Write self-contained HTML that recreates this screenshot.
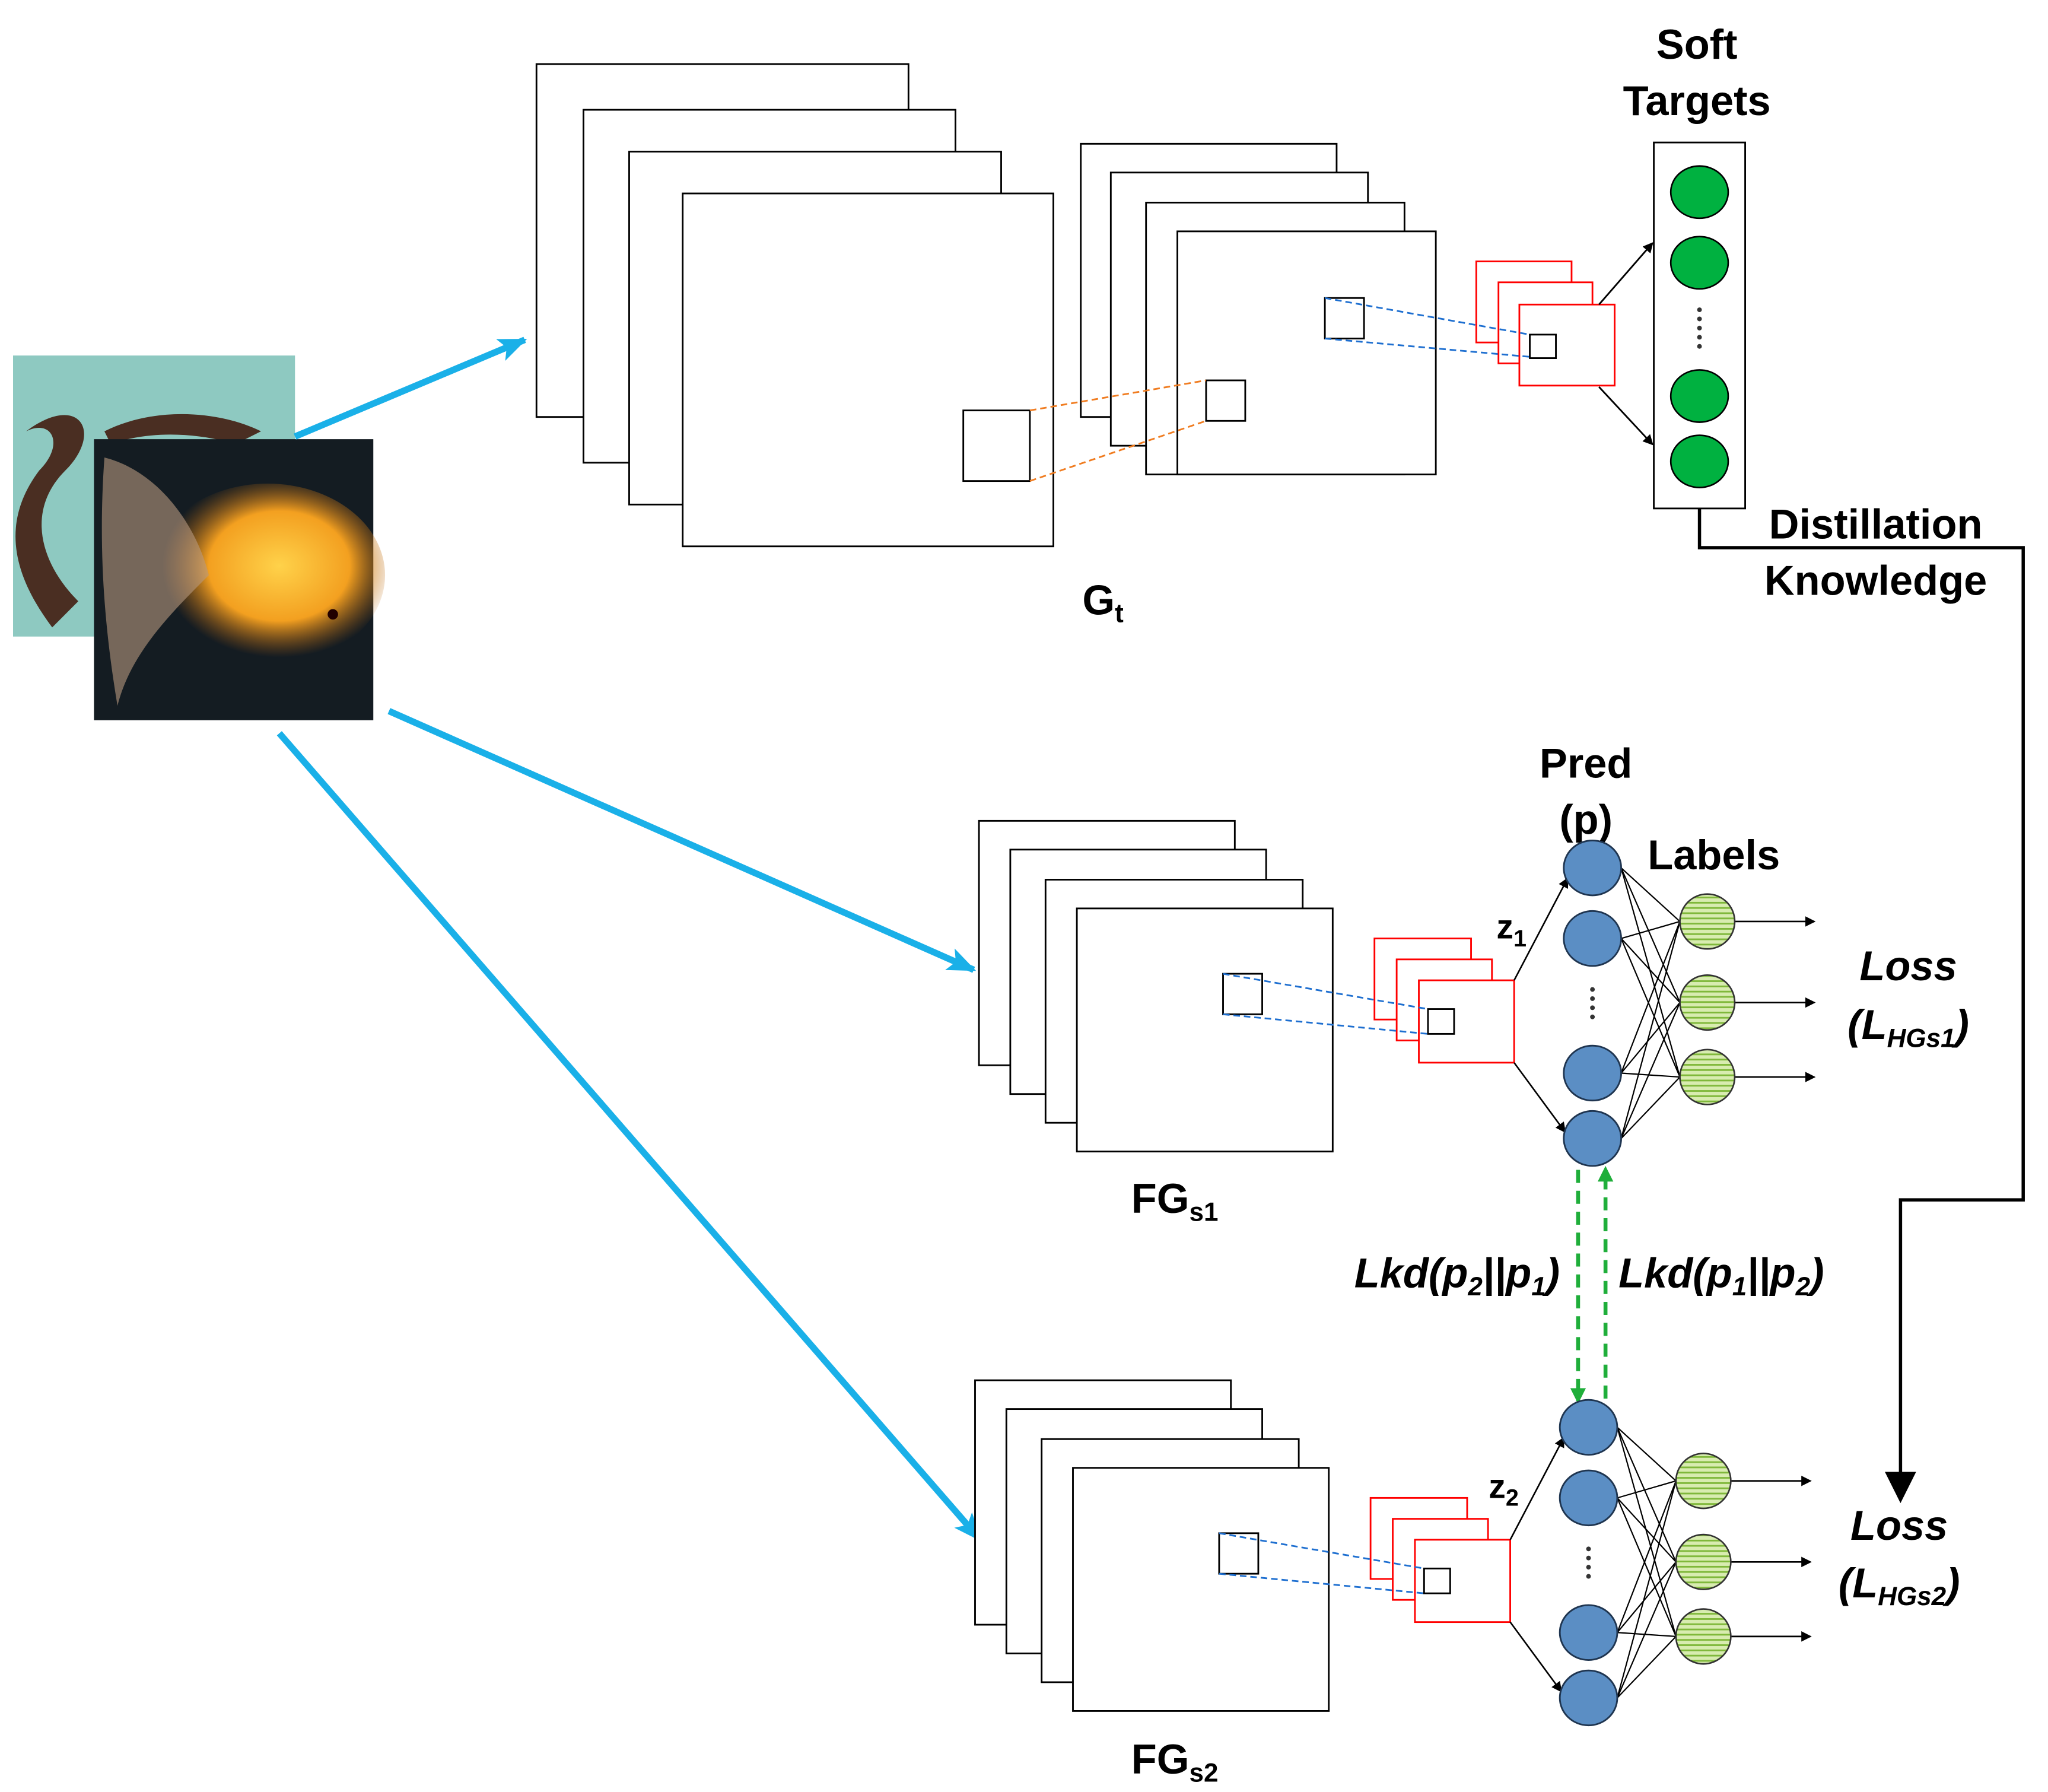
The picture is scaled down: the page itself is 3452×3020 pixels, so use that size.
<!DOCTYPE html>
<html><head><meta charset="utf-8"><style>html,body{margin:0;padding:0;background:#fff}svg{display:block}</style></head><body>
<svg xmlns="http://www.w3.org/2000/svg" width="3452" height="3020" viewBox="0 0 1569 1371" preserveAspectRatio="none" font-family="Liberation Sans, Arial, sans-serif">
<defs>
<marker id="ab" markerWidth="8" markerHeight="8" refX="7" refY="4" orient="auto" markerUnits="userSpaceOnUse"><path d="M0,0 L8,4 L0,8 Z" fill="#000"/></marker>
<marker id="abl" markerWidth="22" markerHeight="18" refX="20" refY="9" orient="auto" markerUnits="userSpaceOnUse"><path d="M0,0 L22,9 L0,18 L5,9 Z" fill="#1ab0e8"/></marker>
<marker id="ag" markerWidth="12" markerHeight="12" refX="10" refY="6" orient="auto" markerUnits="userSpaceOnUse"><path d="M0,0 L12,6 L0,12 Z" fill="#1fae3a"/></marker>
<marker id="abig" markerWidth="24" markerHeight="24" refX="20" refY="12" orient="auto" markerUnits="userSpaceOnUse"><path d="M0,0 L24,12 L0,24 Z" fill="#000"/></marker>
<pattern id="stripe" width="6" height="4" patternUnits="userSpaceOnUse"><rect width="6" height="4" fill="#d8ecb0"/><rect y="2" width="6" height="1.3" fill="#7fb83a"/></pattern>
<radialGradient id="fishg" cx="0.55" cy="0.45" r="0.5"><stop offset="0" stop-color="#ffd24a"/><stop offset="0.6" stop-color="#f3a020"/><stop offset="1" stop-color="#b06010" stop-opacity="0"/></radialGradient>
</defs>
<rect x="10" y="272" width="216" height="215" fill="#8ec9c1"/>
<path d="M20,330 C60,300 80,330 50,360 C20,390 30,430 60,460 L40,480 C10,440 0,400 30,360 C50,340 40,320 20,330Z" fill="#4a2e22"/>
<path d="M80,330 C120,310 170,315 200,330 L180,340 C150,330 110,330 85,340Z" fill="#4a2e22"/>
<rect x="72" y="336" width="214" height="215" fill="#141c22"/>
<ellipse cx="205" cy="440" rx="90" ry="70" fill="url(#fishg)"/>
<path d="M80,350 C120,360 150,400 160,440 C130,470 100,500 90,540 C80,480 75,420 80,350Z" fill="#b89a80" opacity="0.6"/>
<circle cx="255" cy="470" r="4" fill="#200"/>
<g fill="none" stroke="#000" stroke-width="1.3">
<rect x="411" y="49" width="285" height="270" fill="#fff"/>
<rect x="447" y="84" width="285" height="270" fill="#fff"/>
<rect x="482" y="116" width="285" height="270" fill="#fff"/>
<rect x="523" y="148" width="284" height="270" fill="#fff"/>
<rect x="738" y="314" width="51" height="54"/>
<rect x="828" y="110" width="196" height="209" fill="#fff"/>
<rect x="851" y="132" width="197" height="209" fill="#fff"/>
<rect x="878" y="155" width="198" height="208" fill="#fff"/>
<rect x="902" y="177" width="198" height="186" fill="#fff"/>
<rect x="924" y="291" width="30" height="31"/>
<rect x="1015" y="228" width="30" height="31"/>
</g>
<g stroke="#f07c20" stroke-width="1.3" stroke-dasharray="5,3"><line x1="789" y1="314" x2="924" y2="291"/><line x1="789" y1="368" x2="924" y2="322"/></g>
<g fill="#fff" stroke="#f00" stroke-width="1.3">
<rect x="1131" y="200" width="73" height="62"/><rect x="1148" y="216" width="72" height="62"/><rect x="1164" y="233" width="73" height="62"/>
</g>
<g stroke="#1e6fd0" stroke-width="1.3" stroke-dasharray="5,3"><line x1="1015" y1="228" x2="1172" y2="256"/><line x1="1015" y1="259" x2="1172" y2="273"/></g>
<rect x="1172" y="256" width="20" height="18" fill="none" stroke="#000" stroke-width="1.3"/>
<g stroke="#000" stroke-width="1.3" marker-end="url(#ab)"><line x1="1225" y1="233" x2="1266" y2="186"/><line x1="1225" y1="296" x2="1266" y2="340"/></g>
<rect x="1267" y="109" width="70" height="280" fill="#fff" stroke="#000" stroke-width="1.3"/>
<g fill="#00b140" stroke="#000" stroke-width="1.2"><ellipse cx="1302" cy="147" rx="22" ry="20"/><ellipse cx="1302" cy="201" rx="22" ry="20"/><ellipse cx="1302" cy="303" rx="22" ry="20"/><ellipse cx="1302" cy="353" rx="22" ry="20"/></g>
<g fill="#333"><circle cx="1302" cy="237" r="1.8"/><circle cx="1302" cy="244" r="1.8"/><circle cx="1302" cy="251" r="1.8"/><circle cx="1302" cy="258" r="1.8"/><circle cx="1302" cy="265" r="1.8"/></g>
<polyline points="1302,389 1302,419 1550,419 1550,918 1456,918 1456,1146" fill="none" stroke="#000" stroke-width="2.5" marker-end="url(#abig)"/>
<g font-weight="bold" font-size="32" text-anchor="middle" fill="#000">
<text x="1300" y="45">Soft</text><text x="1300" y="88">Targets</text>
<text x="1437" y="412">Distillation</text><text x="1437" y="455">Knowledge</text>
<text x="845" y="470">G<tspan font-size="20" dy="6">t</tspan></text>
<text x="1215" y="595">Pred</text><text x="1215" y="638">(p)</text>
<text x="1313" y="665">Labels</text>
<text x="900" y="928">FG<tspan font-size="20" dy="6">s1</tspan></text>
<text x="900" y="1357">FG<tspan font-size="20" dy="6">s2</tspan></text>
<text x="1158" y="718" font-size="26">z<tspan font-size="18" dy="6">1</tspan></text>
<text x="1152" y="1146" font-size="26">z<tspan font-size="18" dy="6">2</tspan></text>
</g>
<g font-weight="bold" font-style="italic" font-size="32" fill="#000" text-anchor="middle">
<text x="1462" y="750">Loss</text><text x="1462" y="795">(L<tspan font-size="20" dy="6">HGs1</tspan><tspan dy="-6">)</tspan></text>
<text x="1455" y="1178">Loss</text><text x="1455" y="1222">(L<tspan font-size="20" dy="6">HGs2</tspan><tspan dy="-6">)</tspan></text>
<text x="1195" y="985" text-anchor="end">Lkd(p<tspan font-size="20" dy="6">2</tspan><tspan dy="-6">||p</tspan><tspan font-size="20" dy="6">1</tspan><tspan dy="-6">)</tspan></text>
<text x="1240" y="985" text-anchor="start">Lkd(p<tspan font-size="20" dy="6">1</tspan><tspan dy="-6">||p</tspan><tspan font-size="20" dy="6">2</tspan><tspan dy="-6">)</tspan></text>
</g>
<g stroke="#1ab0e8" stroke-width="5" marker-end="url(#abl)"><line x1="226" y1="334" x2="402" y2="260"/><line x1="298" y1="544" x2="746" y2="742"/><line x1="214" y1="561" x2="751" y2="1178"/></g>
<g stroke="#1fae3a" stroke-width="3" stroke-dasharray="10,6"><line x1="1209" y1="895" x2="1209" y2="1072" marker-end="url(#ag)"/><line x1="1230" y1="1070" x2="1230" y2="894" marker-end="url(#ag)"/></g>
<g id="s1">
<g fill="#fff" stroke="#000" stroke-width="1.3">
<rect x="750" y="628" width="196" height="187"/><rect x="774" y="650" width="196" height="187"/><rect x="801" y="673" width="197" height="186"/><rect x="825" y="695" width="196" height="186"/>
<rect x="937" y="745" width="30" height="31" fill="none"/>
</g>
<g fill="#fff" stroke="#f00" stroke-width="1.3"><rect x="1053" y="718" width="74" height="62"/><rect x="1070" y="734" width="73" height="62"/><rect x="1087" y="750" width="73" height="63"/></g>
<g stroke="#1e6fd0" stroke-width="1.3" stroke-dasharray="5,3"><line x1="937" y1="745" x2="1094" y2="772"/><line x1="937" y1="776" x2="1094" y2="791"/></g>
<rect x="1094" y="772" width="20" height="19" fill="none" stroke="#000" stroke-width="1.3"/>
<g stroke="#000" stroke-width="1.2" marker-end="url(#ab)"><line x1="1160" y1="750" x2="1201" y2="672"/><line x1="1160" y1="813" x2="1199" y2="866"/>
<line x1="1329" y1="705" x2="1390" y2="705"/><line x1="1329" y1="767" x2="1390" y2="767"/><line x1="1329" y1="824" x2="1390" y2="824"/></g>
<g stroke="#000" stroke-width="1">
<path d="M1242,664 L1287,705 M1242,664 L1287,767 M1242,664 L1287,824 M1242,718 L1287,705 M1242,718 L1287,767 M1242,718 L1287,824 M1242,821 L1287,705 M1242,821 L1287,767 M1242,821 L1287,824 M1242,871 L1287,705 M1242,871 L1287,767 M1242,871 L1287,824"/>
</g>
<g fill="#5b8ec4" stroke="#1f3550" stroke-width="1.3"><ellipse cx="1220" cy="664" rx="22" ry="21"/><ellipse cx="1220" cy="718" rx="22" ry="21"/><ellipse cx="1220" cy="821" rx="22" ry="21"/><ellipse cx="1220" cy="871" rx="22" ry="21"/></g>
<g fill="#333"><circle cx="1220" cy="757" r="1.8"/><circle cx="1220" cy="764" r="1.8"/><circle cx="1220" cy="771" r="1.8"/><circle cx="1220" cy="778" r="1.8"/></g>
<g fill="url(#stripe)" stroke="#333" stroke-width="1.2"><circle cx="1308" cy="705" r="21"/><circle cx="1308" cy="767" r="21"/><circle cx="1308" cy="824" r="21"/></g>
</g>
<use href="#s1" transform="translate(-3,428)"/>
</svg>
</body></html>
